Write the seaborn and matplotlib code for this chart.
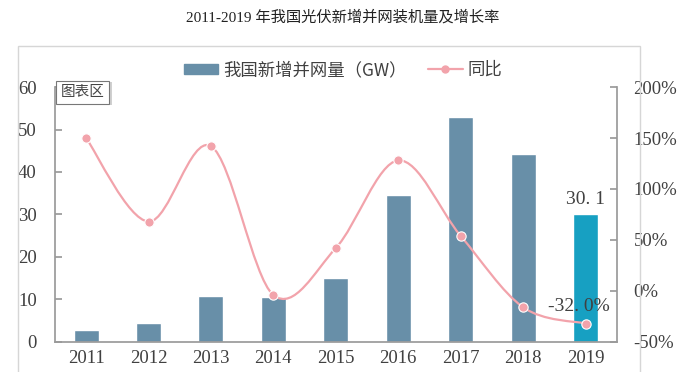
import matplotlib
matplotlib.use("Agg")
import numpy as np
import pandas as pd
import matplotlib.pyplot as plt
import seaborn as sns
from matplotlib.path import Path
from matplotlib.patches import PathPatch, Rectangle
from matplotlib.lines import Line2D
from matplotlib.patches import Patch

years = ["2011", "2012", "2013", "2014", "2015", "2016", "2017", "2018", "2019"]
capacity = [2.7, 4.5, 10.9, 10.6, 15.1, 34.5, 53.0, 44.3, 30.1]
growth = [150, 68, 142, -4, 42, 128, 54, -16, -32]
bar_colors = ["#688fa8"] * 8 + ["#17a0c2"]

title = "2011-2019 年我国光伏新增并网装机量及增长率"
bar_label = "我国新增并网量（GW）"
line_label = "同比"

sns.set_theme(style="white")
plt.rcParams["font.family"] = ["Liberation Serif", "Noto Sans CJK SC"]

line_color = "#f2a3ab"
axis_color = "#9a9a9a"
text_color = "#404040"

fig = plt.figure(figsize=(6.86, 3.72), dpi=100)
ax = fig.add_axes([0.080, 0.081, 0.819, 0.685])

df = pd.DataFrame({"year": years, "cap": capacity})
sns.barplot(data=df, x="year", y="cap", hue="year", palette=bar_colors,
            legend=False, width=0.4, ax=ax, saturation=1)
ax.set_xlim(-0.5, 8.5)
ax.set_ylim(0, 60)
ax.set_yticks(range(0, 61, 10))
ax.set_xlabel("")
ax.set_ylabel("")
ax.tick_params(axis="y", direction="in", length=5, color=axis_color,
               labelsize=13.5, labelcolor=text_color, pad=13)
ax.tick_params(axis="x", length=0, labelsize=13.5, labelcolor=text_color, pad=6)
for side in ["left", "bottom"]:
    ax.spines[side].set_color(axis_color)
ax.spines["top"].set_visible(False)
ax.spines["right"].set_visible(False)

ax2 = ax.twinx()
ax2.set_ylim(-50, 200)
ax2.set_yticks(range(-50, 201, 50))
ax2.set_yticklabels([f"{v}%" for v in range(-50, 201, 50)])
ax2.tick_params(axis="y", direction="in", length=5, color=axis_color,
                labelsize=13.5, labelcolor=text_color, pad=12)
for side in ["top", "left", "bottom"]:
    ax2.spines[side].set_visible(False)
ax2.spines["right"].set_color(axis_color)

# smooth line (Catmull-Rom as cubic bezier)
xs = np.arange(len(years), dtype=float)
ys = np.array(growth, dtype=float)
pts = np.column_stack([xs, ys])
ext = np.vstack([pts[0], pts, pts[-1]])
verts = [tuple(pts[0])]
codes = [Path.MOVETO]
for i in range(1, len(ext) - 2):
    p0, p1, p2, p3 = ext[i - 1], ext[i], ext[i + 1], ext[i + 2]
    c1 = p1 + (p2 - p0) / 6
    c2 = p2 - (p3 - p1) / 6
    verts += [tuple(c1), tuple(c2), tuple(p2)]
    codes += [Path.CURVE4] * 3
ax2.add_patch(PathPatch(Path(verts, codes), fill=False, edgecolor=line_color, lw=1.6))
sns.scatterplot(x=xs, y=ys, ax=ax2, color=line_color, s=45,
                edgecolor="white", linewidth=0.8, zorder=5, legend=False)

# data labels
ax.text(8, capacity[-1] + 1.5, "30. 1", ha="center", va="bottom",
        fontsize=14, color=text_color)
ax2.text(7.9, growth[-1] + 8, "-32. 0%", ha="center", va="bottom",
         fontsize=14, color=text_color)

# legend
handles = [Patch(color=bar_colors[0]),
           Line2D([0], [0], color=line_color, marker="o", markersize=5, lw=1.6)]
leg = fig.legend(handles, [bar_label, line_label], loc="center", bbox_to_anchor=(0.5, 0.812),
                 ncol=2, frameon=False, handlelength=2.0, columnspacing=1.2,
                 handleheight=0.5, handletextpad=0.3,
                 prop={"family": ["Noto Sans CJK SC"], "size": 12.5})
for t in leg.get_texts():
    t.set_color(text_color)

# chart area frame and title
fig.patches.append(Rectangle((18 / 686, -0.01), 622 / 686, 1 - 46 / 372 + 0.01,
                             transform=fig.transFigure, fill=False,
                             edgecolor="#d6d6d6", lw=1.0, zorder=0))
fig.text(0.5, 0.953, title, ha="center", va="center", fontsize=11, color="#222222",
         family=["Liberation Serif", "Noto Sans CJK SC"])

# "chart area" tag with a small shadow
ax.add_patch(Rectangle((0.007, 0.928), 0.095, 0.09, transform=ax.transAxes,
                       facecolor="#d0d0d0", edgecolor="none", clip_on=False, zorder=6))
ax.add_patch(Rectangle((0.002, 0.935), 0.095, 0.09, transform=ax.transAxes,
                       facecolor="white", edgecolor="#777777", lw=0.8, clip_on=False, zorder=7))
ax.text(0.0495, 0.98, "图表区", transform=ax.transAxes, ha="center", va="center",
        fontsize=10.5, color="#444444", family=["Noto Sans CJK SC"], zorder=8)

fig.savefig("out.png", dpi=100)
